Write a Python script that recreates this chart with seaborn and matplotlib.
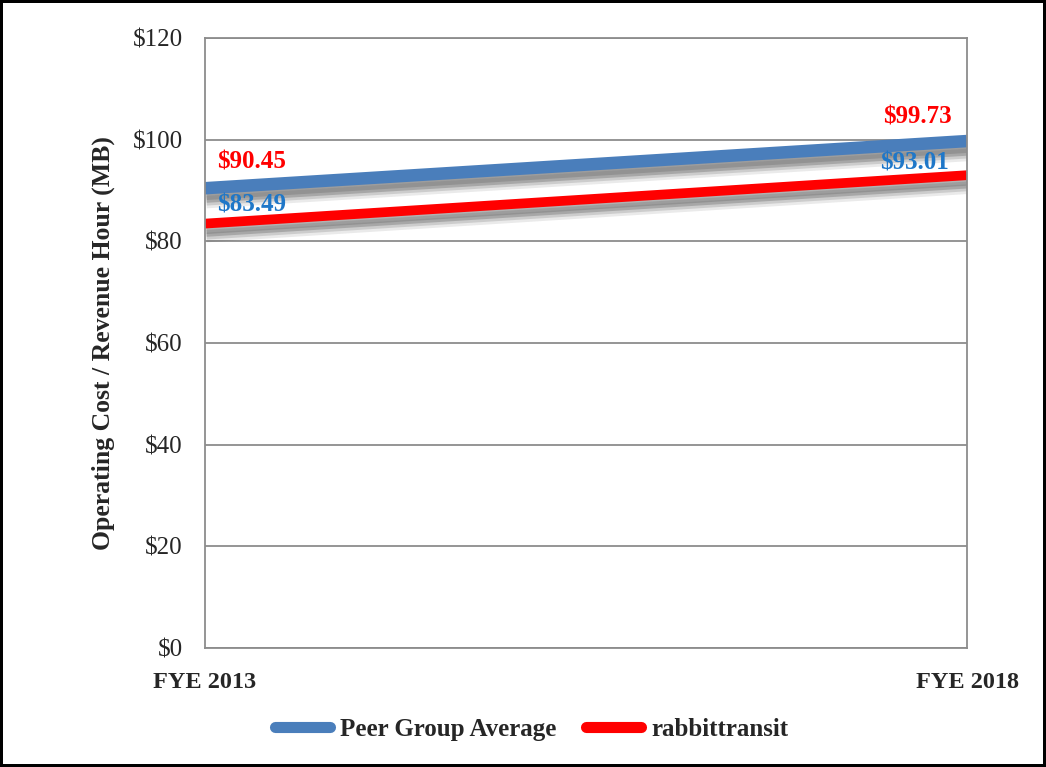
import pandas as pd
import matplotlib.pyplot as plt
import matplotlib.patheffects as pe
from matplotlib.lines import Line2D
import seaborn as sns

# data
years = ['FYE 2013', 'FYE 2018']
peer_avg = [90.45, 99.73]
rabbit = [83.49, 93.01]
series_names = ['Peer Group Average', 'rabbittransit']
yticks = [0, 20, 40, 60, 80, 100, 120]

df = pd.DataFrame({
    'year': years * 2,
    'value': peer_avg + rabbit,
    'series': [series_names[0]] * 2 + [series_names[1]] * 2,
})

sns.set_theme(style='white')
plt.rcParams['font.family'] = ['Liberation Serif', 'DejaVu Serif']

blue = '#4A7EBB'
red = '#FF0000'
label_blue = '#1F77C8'

fig = plt.figure(figsize=(10.46, 7.67), dpi=100)
fig.patch.set_edgecolor('black')
fig.patch.set_linewidth(3)
ax = fig.add_axes([0.196, 0.155, 0.7285, 0.7955])

# soft drop shadow: a few faint offset copies
shadow = [pe.SimpleLineShadow(offset=(1, -o), shadow_color='#333333', alpha=a)
          for o, a in [(10, 0.10), (8, 0.16), (6, 0.24), (4, 0.18)]] + [pe.Normal()]
sns.lineplot(data=df[df.series == series_names[0]], x='year', y='value', color=blue,
             lw=9, ax=ax, path_effects=shadow, solid_capstyle='butt', legend=False)
sns.lineplot(data=df[df.series == series_names[1]], x='year', y='value', color=red,
             lw=7, ax=ax, path_effects=shadow, solid_capstyle='butt', legend=False)

ax.set_xlim(0, 1)
ax.set_ylim(0, 120)
ax.set_yticks(yticks)
ax.set_yticklabels([f'${v}' for v in yticks], fontsize=18)
ax.set_xticks([0, 1])
ax.set_xticklabels(years, fontsize=17.5, fontweight='bold')
ax.tick_params(axis='x', pad=17, length=0)
ax.tick_params(axis='y', pad=16, length=0)
ax.set_xlabel('')
ax.set_ylabel('Operating Cost / Revenue Hour (MB)', fontsize=18.5, fontweight='bold')
ax.yaxis.set_label_coords(-0.118, 0.5)
ax.grid(axis='y', color='#8c8c8c', lw=1.3)
ax.grid(axis='x', visible=False)
ax.set_axisbelow(True)
for s in ax.spines.values():
    s.set_color('#8c8c8c')
    s.set_linewidth(1.3)

# data labels (colours as in the original)
kw = dict(textcoords='offset pixels', fontsize=18, fontweight='bold', va='center')
ax.annotate('$90.45', (0, peer_avg[0]), xytext=(12, 26), color=red, ha='left', **kw)
ax.annotate('$83.49', (0, rabbit[0]), xytext=(12, 19), color=label_blue, ha='left', **kw)
ax.annotate('$99.73', (1, peer_avg[1]), xytext=(-15, 24), color=red, ha='right', **kw)
ax.annotate('$93.01', (1, rabbit[1]), xytext=(-18, 12), color=label_blue, ha='right', **kw)

handles = [Line2D([], [], color=blue, lw=8, solid_capstyle='round'),
           Line2D([], [], color=red, lw=8, solid_capstyle='round')]
fig.legend(handles, series_names, loc='center', bbox_to_anchor=(0.508, 0.049), ncol=2,
           frameon=False, handlelength=2.2, handletextpad=0.4, columnspacing=1.2,
           prop={'size': 18, 'weight': 'bold'})

fig.savefig('out.png', dpi=100, edgecolor=fig.get_edgecolor())
